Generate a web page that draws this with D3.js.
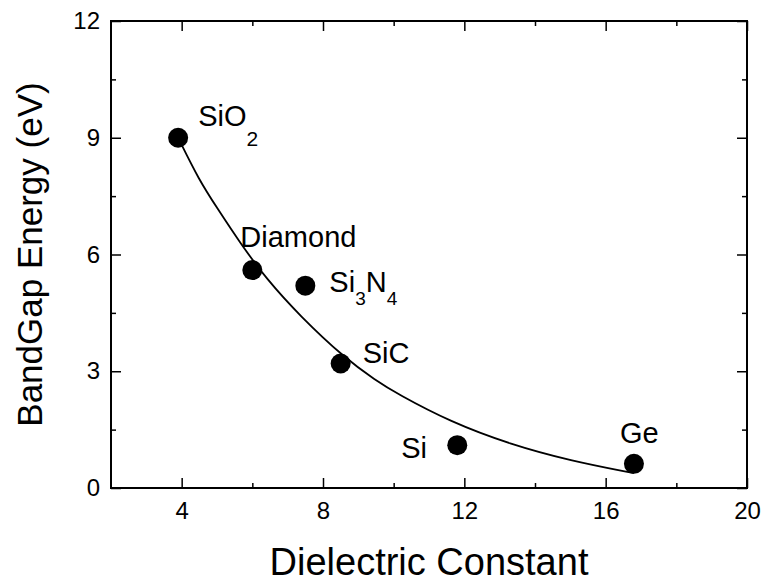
<!DOCTYPE html>
<html>
<head>
<meta charset="utf-8">
<script src="https://cdn.jsdelivr.net/npm/d3@7"></script>
<style>
  body { margin: 0; background: #fff; }
  svg { display: block; font-family: "Liberation Sans", Arial, sans-serif; }
</style>
</head>
<body>
<svg id="chart"></svg>
<script>
// materials (scatter points)
const names = ["SiO", "Diamond", "Si", "SiC", "Si", "Ge"];
const subs = [["2"], [], ["3", "4"], [], [], []];
const dielectric = [3.9, 6.0, 7.5, 8.5, 11.8, 16.8];
const bandgap = [9.0, 5.6, 5.2, 3.2, 1.1, 0.62];

// fitted curve
const fitX = [3.9, 4.5, 5.0, 5.65, 6.4, 7.35, 8.6, 9.5, 10.1, 11.6, 13.3, 15.0, 16.8];
const fitY = [9.0, 7.9, 7.2, 6.3, 5.37, 4.42, 3.35, 2.76, 2.42, 1.70, 1.12, 0.70, 0.38];

const xMajor = [4, 8, 12, 16, 20];
const xMinor = [6, 10, 14, 18];
const yMajor = [0, 3, 6, 9, 12];
const yMinor = [1.5, 4.5, 7.5, 10.5];

const width = 764;
const height = 583;
const marginTop = 21;
const marginRight = 17;
const marginBottom = 95;
const marginLeft = 111;

const x = d3.scaleLinear().domain([2, 20]).range([marginLeft, width - marginRight]);
const y = d3.scaleLinear().domain([0, 12]).range([height - marginBottom, marginTop]);

const svg = d3.select("#chart")
    .attr("width", width)
    .attr("height", height)
    .attr("viewBox", [0, 0, width, height]);

// label offsets in px from the point: [dx, dy]
const labelOff = [[20, -12], [-12, -23], [24, 6], [22, 0], [-56, 13], [-14, -21]];

function styleAxis(g) {
    g.select(".domain").remove();
    g.selectAll(".tick line").attr("stroke", "#000").attr("stroke-width", 1.5);
    g.selectAll("text").attr("fill", "#000").attr("font-size", 24);
}

// bottom
svg.append("g")
    .attr("transform", `translate(0,${y(0)})`)
    .call(d3.axisBottom(x).tickValues(xMajor).tickSize(-10).tickPadding(14))
    .call(styleAxis);
svg.append("g")
    .attr("transform", `translate(0,${y(0)})`)
    .call(d3.axisBottom(x).tickValues(xMinor).tickSize(-5).tickFormat(""))
    .call(styleAxis);
// top
svg.append("g")
    .attr("transform", `translate(0,${y(12)})`)
    .call(d3.axisTop(x).tickValues(xMajor).tickSize(-10).tickFormat(""))
    .call(styleAxis);
svg.append("g")
    .attr("transform", `translate(0,${y(12)})`)
    .call(d3.axisTop(x).tickValues(xMinor).tickSize(-5).tickFormat(""))
    .call(styleAxis);
// left
svg.append("g")
    .attr("transform", `translate(${x(2)},0)`)
    .call(d3.axisLeft(y).tickValues(yMajor).tickSize(-10).tickPadding(11))
    .call(styleAxis);
svg.append("g")
    .attr("transform", `translate(${x(2)},0)`)
    .call(d3.axisLeft(y).tickValues(yMinor).tickSize(-5).tickFormat(""))
    .call(styleAxis);
// right
svg.append("g")
    .attr("transform", `translate(${x(20)},0)`)
    .call(d3.axisRight(y).tickValues(yMajor).tickSize(-10).tickFormat(""))
    .call(styleAxis);
svg.append("g")
    .attr("transform", `translate(${x(20)},0)`)
    .call(d3.axisRight(y).tickValues(yMinor).tickSize(-5).tickFormat(""))
    .call(styleAxis);

// frame
svg.append("rect")
    .attr("x", x(2))
    .attr("y", y(12))
    .attr("width", x(20) - x(2))
    .attr("height", y(0) - y(12))
    .attr("fill", "none")
    .attr("stroke", "#000")
    .attr("stroke-width", 2);

// fit curve
svg.append("path")
    .datum(fitX.map((v, i) => [v, fitY[i]]))
    .attr("fill", "none")
    .attr("stroke", "#000")
    .attr("stroke-width", 1.8)
    .attr("d", d3.line().x(d => x(d[0])).y(d => y(d[1])).curve(d3.curveBasis));

// points
svg.append("g")
    .selectAll("circle")
    .data(dielectric)
    .join("circle")
    .attr("cx", d => x(d))
    .attr("cy", (d, i) => y(bandgap[i]))
    .attr("r", 10)
    .attr("fill", "#000");

// labels with subscripts
const labels = svg.append("g")
    .selectAll("text")
    .data(names)
    .join("text")
    .attr("x", (d, i) => x(dielectric[i]) + labelOff[i][0])
    .attr("y", (d, i) => y(bandgap[i]) + labelOff[i][1])
    .attr("font-size", 29)
    .attr("fill", "#000");

labels.each(function (d, i) {
    const t = d3.select(this);
    if (i === 2) {  // Si3N4
        t.append("tspan").text("Si");
        t.append("tspan").attr("font-size", 19).attr("dy", 13).text("3");
        t.append("tspan").attr("dy", -13).text("N");
        t.append("tspan").attr("font-size", 19).attr("dy", 13).text("4");
    } else if (subs[i].length) {
        t.append("tspan").text(d);
        t.append("tspan").attr("font-size", 21).attr("dy", 20).text(subs[i][0]);
    } else {
        t.text(d);
    }
});

// axis titles
svg.append("text")
    .attr("x", (x(2) + x(20)) / 2)
    .attr("y", 575)
    .attr("text-anchor", "middle")
    .attr("font-size", 38)
    .attr("fill", "#000")
    .text("Dielectric Constant");

svg.append("text")
    .attr("transform", `translate(42,${(y(0) + y(12)) / 2}) rotate(-90)`)
    .attr("text-anchor", "middle")
    .attr("font-size", 35)
    .attr("fill", "#000")
    .text("BandGap Energy (eV)");
</script>
</body>
</html>
